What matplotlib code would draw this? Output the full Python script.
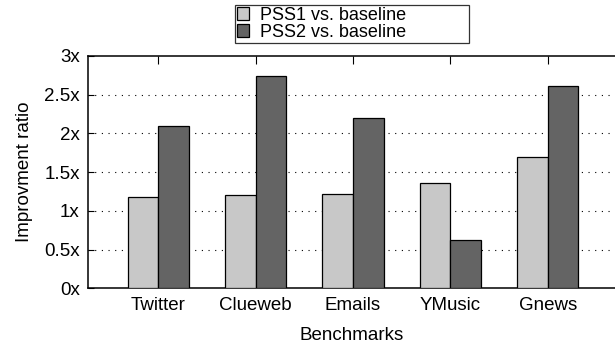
import numpy as np
import matplotlib.pyplot as plt

benchmarks = ['Twitter', 'Clueweb', 'Emails', 'YMusic', 'Gnews']
pss1 = [1.18, 1.20, 1.22, 1.36, 1.69]
pss2 = [2.10, 2.74, 2.20, 0.63, 2.61]
series_names = ['PSS1 vs. baseline', 'PSS2 vs. baseline']
yticks = [0, 0.5, 1, 1.5, 2, 2.5, 3]
ytick_labels = ['0x', '0.5x', '1x', '1.5x', '2x', '2.5x', '3x']

plt.rcParams['font.family'] = ['Liberation Sans', 'DejaVu Sans']

W, H = 615, 347
fig = plt.figure(figsize=(W/100, H/100), dpi=100)
ax = fig.add_axes([88/W, (H-288.3)/H, (W-88)/W, (288.3-56)/H])

x = np.arange(len(benchmarks))
bw = 0.314
ax.bar(x - bw, pss1, width=bw, align='edge', color='#c8c8c8', edgecolor='k', linewidth=0.9, zorder=3, label=series_names[0])
ax.bar(x, pss2, width=bw, align='edge', color='#646464', edgecolor='k', linewidth=0.9, zorder=3, label=series_names[1])

ax.set_xlim(-0.722, 4.69)
ax.set_ylim(0, 3)
ax.set_yticks(yticks)
ax.set_yticklabels(ytick_labels, fontsize=13.5)
ax.set_xticks(x)
ax.set_xticklabels(benchmarks, fontsize=13.5)
ax.tick_params(axis='x', bottom=False, top=False, pad=3)
ax.tick_params(axis='y', direction='in', length=4, width=0.8, pad=6)

# mirrored ticks on top at group centres
sec = ax.secondary_xaxis('top')
sec.set_xticks(x)
sec.set_xticklabels([])
sec.tick_params(direction='in', length=6, width=0.8)
sec.spines['top'].set_visible(False)

for y in yticks[1:-1]:
    ax.axhline(y, color='k', linestyle=(0, (1, 5)), linewidth=0.8, zorder=1)

for s in ['left', 'bottom', 'top']:
    ax.spines[s].set_linewidth(1.1)
ax.spines['right'].set_visible(False)

ax.set_xlabel('Benchmarks', fontsize=13.5, labelpad=9)
ax.set_ylabel('Improvment ratio', fontsize=13.5, labelpad=8)

leg = fig.legend(loc='upper left', bbox_to_anchor=(235/W, 1 - 45/H, 234/W, 40/H), mode='expand',
                 fontsize=13, frameon=True, fancybox=False, handlelength=0.7, handleheight=0.7,
                 handletextpad=0.6, borderpad=0.1, labelspacing=0.0, borderaxespad=0)
leg.get_frame().set_edgecolor('k')
leg.get_frame().set_linewidth(0.9)

plt.savefig('out.png', dpi=100)
plt.close()
